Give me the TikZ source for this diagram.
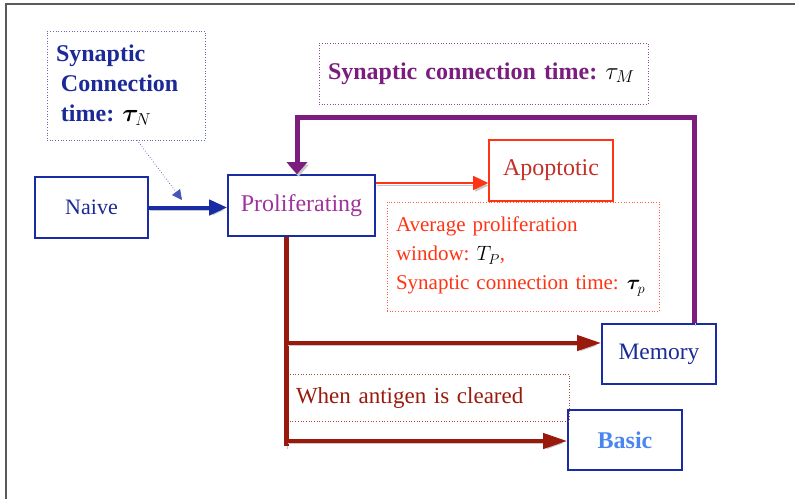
\documentclass[tikz,border=0pt]{standalone}
\usepackage{fontspec}
\setmainfont{Liberation Serif}
\usepackage{bm}
\usetikzlibrary{arrows.meta}

\definecolor{navy}{HTML}{1A2BA6}
\definecolor{navytext}{HTML}{1B2A96}
\definecolor{plum}{HTML}{7B1C7E}
\definecolor{orchid}{HTML}{A0329C}
\definecolor{scarlet}{HTML}{FF3414}
\definecolor{brick}{HTML}{C2302A}
\definecolor{maroon}{HTML}{991A0C}
\definecolor{sky}{HTML}{4A86F0}
\definecolor{framegray}{HTML}{5A5A5A}

\begin{document}
\begin{tikzpicture}[x=1pt,y=-1pt,
  stagebox/.style={draw=navy, line width=1.6pt, inner sep=0pt, minimum height=61pt,
    font=\fontsize{23.5}{26}\selectfont},
  notebox/.style={dotted, line width=0.7pt, inner xsep=9pt, inner ysep=0pt, align=left},
  shadowed/.style={preaction={draw=black!22, transform canvas={shift={(1.5pt,-2.5pt)}}}},
]
\useasboundingbox (0,0) rectangle (795,499);

% outer frame (top and left edges)
\draw[framegray, line width=1.5pt] (795,4) -- (6,4) -- (6,499);

% cell stages
\node[stagebox, minimum width=113pt, text=navytext, font=\fontsize{22}{26}\selectfont] (Naive) at (91.5,207.5) {Naive};
\node[stagebox, minimum width=147pt, text=orchid, font=\fontsize{24}{26}\selectfont] (Prolif) at (301.5,205.5) {Proliferating};
\node[stagebox, draw=scarlet, minimum width=124pt, text=brick, font=\fontsize{24}{26}\selectfont] (Apop) at (551,170.5) {Apoptotic};
\node[stagebox, minimum width=114pt, minimum height=60pt, text=navytext] (Memory) at (659,354) {Memory};
\node[stagebox, minimum width=114pt, minimum height=60pt, text=sky, font=\fontsize{24}{26}\selectfont\bfseries] (Basic) at (625,440) {Basic};

% annotation boxes
\node[notebox, draw=navy!70, minimum width=158pt, minimum height=109pt, text width=140pt,
  text=navytext, font=\fontsize{24}{30}\selectfont\bfseries] (SynN) at (126,85.5)
  {Synaptic\\\hspace*{5pt}Connection\\\hspace*{5pt}time:\hspace{8pt}\textcolor{black}{$\bm\tau_{N}$}};
\node[notebox, draw=plum!80, minimum width=329pt, minimum height=61pt, text width=311pt,
  text=plum, font=\fontsize{24}{26}\selectfont\bfseries] (SynM) at (483.5,73.5)
  {Synaptic connection time:\hspace{8pt}\textcolor{black}{$\tau_{M}$}};
\node[notebox, draw=scarlet!80, minimum width=272pt, minimum height=109pt, text width=254pt,
  text=scarlet, font=\fontsize{21}{29}\selectfont] (Window) at (523,256.5)
  {Average proliferation\\window:\ \textcolor{black}{$T_{P}$},\\Synaptic connection time:\hspace{8pt}\textcolor{black}{$\bm\tau_{p}$}};
\node[notebox, draw=maroon!80, minimum width=282pt, minimum height=47pt, text width=264pt,
  text=maroon, font=\fontsize{23}{26}\selectfont] (Cleared) at (428,397.5)
  {When antigen is cleared};

% connectors
\coordinate (synTail) at (137,140);
\coordinate (synTip) at (182,200);
\draw[navy!80, dotted, line width=0.7pt, -{Triangle[length=10pt,width=10pt]}] (synTail) -- (synTip);

\draw[navy, line width=4pt, shadowed, -{Triangle[length=18pt,width=15pt]}]
  (Naive.east) -- (Naive.east -| Prolif.west);

\coordinate (apLevel) at (0,183);
\draw[scarlet, line width=1.6pt, shadowed, -{Triangle[length=15pt,width=14pt]}]
  (Prolif.east |- apLevel) -- (Apop.west |- apLevel);

\coordinate (memX) at (694,0);
\coordinate (topRun) at (694,117);
\coordinate (prX) at (297,0);
\draw[plum, line width=5pt, shadowed, -{Triangle[length=12pt,width=20pt]}]
  (Memory.north -| memX) -- (topRun) -| (Prolif.north -| prX);

\coordinate (trunkX) at (286,0);
\coordinate (trunkEnd) at (286,446);
\coordinate (memRow) at (286,343);
\coordinate (basRow) at (286,441);
\draw[maroon, line width=5pt, shadowed] (Prolif.south -| trunkX) -- (trunkEnd);
\draw[maroon, line width=4pt, shadowed, -{Triangle[length=24pt,width=15pt]}]
  (memRow) -- (memRow -| Memory.west);
\draw[maroon, line width=4pt, shadowed, -{Triangle[length=24pt,width=15pt]}]
  (basRow) -- (basRow -| Basic.west);
\end{tikzpicture}
\end{document}
